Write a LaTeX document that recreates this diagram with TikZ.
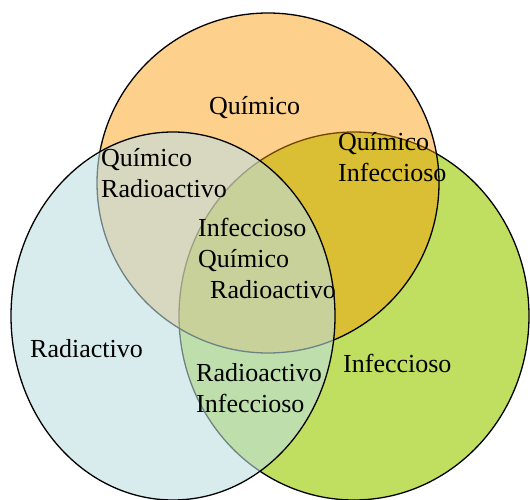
\documentclass[tikz,border=0pt]{standalone}
\usepackage{fontspec}
\setmainfont{Liberation Serif}
\definecolor{venngreen}{RGB}{192,223,96}
\definecolor{vennorange}{RGB}{250,150,0}
\definecolor{vennblue}{RGB}{189,223,226}
\tikzset{
  set/.style={draw=black,line width=1.3pt},
  lbl/.style={anchor=base west,inner sep=0pt,align=left},
}
\begin{document}
\begin{tikzpicture}[x=1pt,y=-1pt,font=\fontsize{26}{31}\selectfont]
\useasboundingbox (0,0) rectangle (530,500);
% the three sets, bottom to top
\filldraw[set,fill=venngreen] (354,316) ellipse [x radius=175, y radius=184];
\filldraw[set,fill=vennorange,fill opacity=0.45] (268,183) ellipse [x radius=171, y radius=170];
\filldraw[set,fill=vennblue,fill opacity=0.59] (173,316) ellipse [x radius=162, y radius=184];
% labels (base = last line)
\node[lbl] (quim) at (209,115) {Químico};
\node[lbl] (rad) at (30,357) {Radiactivo};
\node[lbl] (inf) at (343,372) {Infeccioso};
\node[lbl] (quimrad) at (101,197) {Químico\\Radioactivo};
\node[lbl] (quiminf) at (338,181) {Químico\\Infeccioso};
\node[lbl] (radinf) at (196,412) {Radioactivo\\Infeccioso};
\node[lbl] (all) at (198,298) {Infeccioso\\Químico\\\hspace*{12pt}Radioactivo};
\end{tikzpicture}
\end{document}
